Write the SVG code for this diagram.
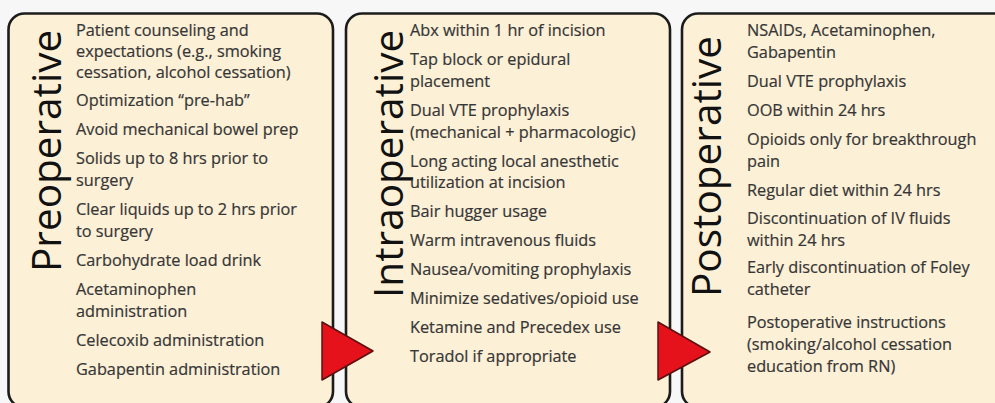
<svg xmlns="http://www.w3.org/2000/svg" width="995" height="403" viewBox="0 0 995 403">
<style>
.box{fill:#fcf0d6;stroke:#1c1c1c;stroke-width:2.6}
.t{font-family:"Open Sans","Liberation Sans",sans-serif;font-size:16.3px;fill:#363636;stroke:#363636;stroke-width:0.2}
.h{font-family:"Open Sans","Liberation Sans",sans-serif;font-size:40.5px;fill:#111}
.arr{fill:#e5121b;stroke:#5a1010;stroke-width:1.5;stroke-linejoin:round}
</style>
<rect x="0" y="0" width="995" height="403" fill="#f7f7f7"/>
<g id="preoperative">
<rect class="box" x="8.5" y="13.5" width="324.5" height="394" rx="16"/>
<text class="h" transform="translate(61,272) rotate(-90)">Preoperative</text>
<text class="t" x="76" y="36">Patient counseling and</text>
<text class="t" x="76" y="57">expectations (e.g., smoking</text>
<text class="t" x="76" y="78">cessation, alcohol cessation)</text>
<text class="t" x="76" y="106">Optimization “pre-hab”</text>
<text class="t" x="76" y="135">Avoid mechanical bowel prep</text>
<text class="t" x="76" y="164">Solids up to 8 hrs prior to</text>
<text class="t" x="76" y="186">surgery</text>
<text class="t" x="76" y="215">Clear liquids up to 2 hrs prior</text>
<text class="t" x="76" y="237">to surgery</text>
<text class="t" x="76" y="266">Carbohydrate load drink</text>
<text class="t" x="76" y="295">Acetaminophen</text>
<text class="t" x="76" y="317">administration</text>
<text class="t" x="76" y="346">Celecoxib administration</text>
<text class="t" x="76" y="375">Gabapentin administration</text>
</g>
<g id="intraoperative">
<rect class="box" x="346" y="13.5" width="324" height="394" rx="16"/>
<text class="h" transform="translate(403,298) rotate(-90)">Intraoperative</text>
<text class="t" x="410" y="36">Abx within 1 hr of incision</text>
<text class="t" x="410" y="65">Tap block or epidural</text>
<text class="t" x="410" y="87">placement</text>
<text class="t" x="410" y="116">Dual VTE prophylaxis</text>
<text class="t" x="410" y="138">(mechanical + pharmacologic)</text>
<text class="t" x="410" y="167">Long acting local anesthetic</text>
<text class="t" x="410" y="188">utilization at incision</text>
<text class="t" x="410" y="217">Bair hugger usage</text>
<text class="t" x="410" y="246">Warm intravenous fluids</text>
<text class="t" x="410" y="275">Nausea/vomiting prophylaxis</text>
<text class="t" x="410" y="304">Minimize sedatives/opioid use</text>
<text class="t" x="410" y="333">Ketamine and Precedex use</text>
<text class="t" x="410" y="362">Toradol if appropriate</text>
</g>
<g id="postoperative">
<rect class="box" x="682" y="13.5" width="330" height="394" rx="16"/>
<text class="h" transform="translate(721,297) rotate(-90)">Postoperative</text>
<text class="t" x="747" y="36">NSAIDs, Acetaminophen,</text>
<text class="t" x="747" y="58">Gabapentin</text>
<text class="t" x="747" y="87">Dual VTE prophylaxis</text>
<text class="t" x="747" y="116">OOB within 24 hrs</text>
<text class="t" x="747" y="145">Opioids only for breakthrough</text>
<text class="t" x="747" y="167">pain</text>
<text class="t" x="747" y="196">Regular diet within 24 hrs</text>
<text class="t" x="747" y="224">Discontinuation of IV fluids</text>
<text class="t" x="747" y="246">within 24 hrs</text>
<text class="t" x="747" y="273">Early discontinuation of Foley</text>
<text class="t" x="747" y="295">catheter</text>
<text class="t" x="747" y="328">Postoperative instructions</text>
<text class="t" x="747" y="350">(smoking/alcohol cessation</text>
<text class="t" x="747" y="372">education from RN)</text>
</g>
<g id="connectors">
<polygon class="arr" points="322,322 373,351 322,380"/>
<polygon class="arr" points="658,322 710,352 658,380"/>
</g>
</svg>
